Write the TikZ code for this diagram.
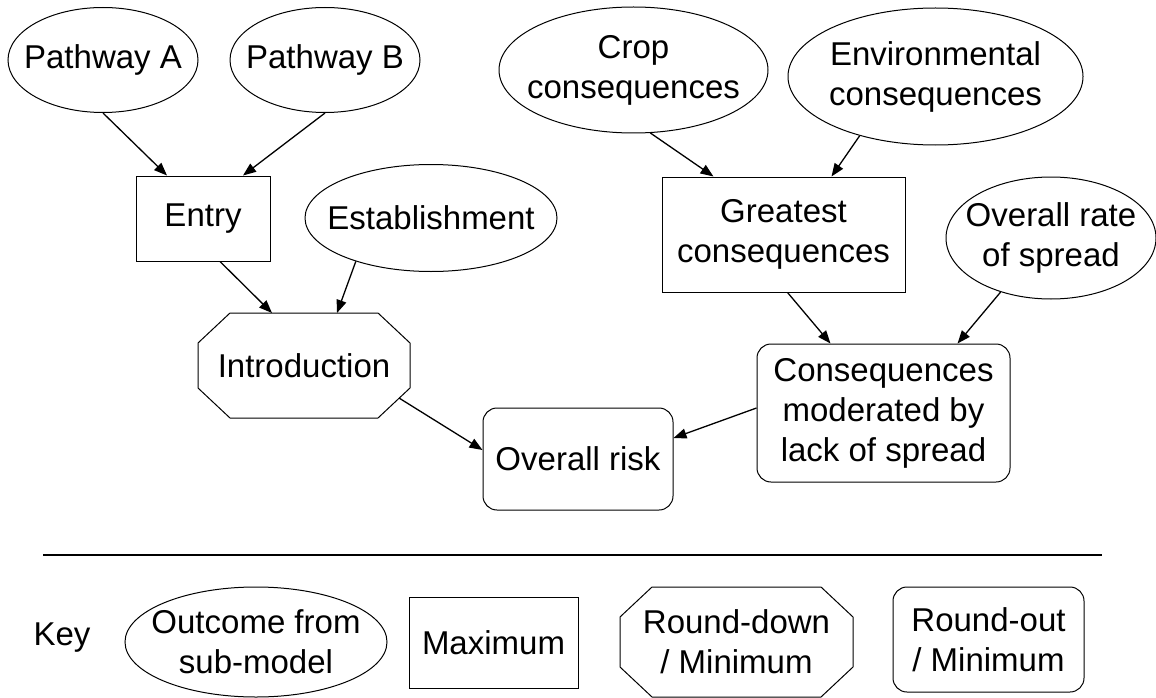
\documentclass[tikz,border=0pt]{standalone}
\usepackage{fontspec}
\setmainfont{Liberation Sans}
\usepackage{tikz}
\usetikzlibrary{shapes.geometric}
\usetikzlibrary{arrows.meta}

\newcommand{\octdraw}[1]{\draw[line width=1pt] ([xshift=32pt]#1.north west) -- ([xshift=-32pt]#1.north east) -- ([yshift=-30pt]#1.north east) -- ([yshift=30pt]#1.south east) -- ([xshift=-32pt]#1.south east) -- ([xshift=32pt]#1.south west) -- ([yshift=30pt]#1.south west) -- ([yshift=-30pt]#1.north west) -- cycle;}

\begin{document}
\begin{tikzpicture}[x=1pt, y=-1pt, font=\fontsize{33}{40}\selectfont,
	outcome/.style={draw, ellipse, line width=1pt, inner sep=-30pt, align=center},
	maxbox/.style={draw, rectangle, line width=1pt, inner sep=4pt, align=center},
	minbox/.style={draw, rectangle, rounded corners=14pt, line width=1pt, inner sep=4pt, align=center},
	downbox/.style={rectangle, inner sep=4pt, outer sep=0pt, align=center},
	arr/.style={-{Triangle[length=13pt,width=10pt]}, line width=1.3pt}]
	\useasboundingbox (0,0) rectangle (1156,698);
	\node[outcome, minimum width=190pt, minimum height=105pt] (pathA) at (103,60) {Pathway A};
	\node[outcome, minimum width=190pt, minimum height=105pt] (pathB) at (325,60) {Pathway B};
	\node[maxbox, minimum width=134pt, minimum height=85pt] (entry) at (203,218.5) {Entry};
	\node[outcome, minimum width=252pt, minimum height=107pt] (est) at (431,218) {Establishment};
	\node[downbox, minimum width=212pt, minimum height=105pt] (intro) at (304,365.5) {Introduction};
	\octdraw{intro}
	\node[minbox, minimum width=190pt, minimum height=102pt] (risk) at (578,459) {Overall risk};
	\node[outcome, minimum width=269pt, minimum height=126pt] (crop) at (633.5,70) {Crop\\consequences};
	\node[outcome, minimum width=295pt, minimum height=137pt] (env) at (935.5,76.5) {Environmental\\consequences};
	\node[maxbox, minimum width=243pt, minimum height=115pt] (great) at (783.5,234.5) {Greatest\\consequences};
	\node[outcome, minimum width=210pt, minimum height=122pt] (rate) at (1051,238) {Overall rate\\of spread};
	\node[minbox, minimum width=253pt, minimum height=138pt] (cons) at (883.5,413) {Consequences\\moderated by\\lack of spread};
	\draw[arr] (pathA.south) -- ([xshift=-36pt]entry.north);
	\draw[arr] (pathB.south) -- ([xshift=40pt]entry.north);
	\draw[arr] ([xshift=17pt]entry.south) -- ([xshift=-32pt]intro.north);
	\draw[arr] (est.210) -- ([xshift=33pt]intro.north);
	\draw[arr] ([xshift=-11pt,yshift=20pt]intro.south east) -- ([yshift=9pt]risk.west);
	\draw[arr] (crop.-75) -- ([xshift=-70pt]great.north);
	\draw[arr] (env.218) -- ([xshift=48pt]great.north);
	\draw[arr] ([xshift=4pt]great.south) -- ([xshift=-53pt]cons.north);
	\draw[arr] (rate.227) -- ([xshift=74pt]cons.north);
	\draw[arr] ([yshift=5pt]cons.west) -- ([yshift=21pt]risk.east);
	\draw[line width=1.3pt] (43,555) -- (1102,555);
	\node (key) at (62,638) {Key};
	\node[outcome, minimum width=262pt, minimum height=110pt] (keyOut) at (256,642) {Outcome from\\sub-model};
	\node[maxbox, minimum width=169pt, minimum height=91pt] (keyMax) at (493.5,642.5) {Maximum};
	\node[downbox, minimum width=233pt, minimum height=110pt] (keyDown) at (736.5,642) {Round-down\\ / Minimum};
	\octdraw{keyDown}
	\node[minbox, minimum width=191pt, minimum height=105pt] (keyMin) at (988.5,639.5) {Round-out\\/ Minimum};
\end{tikzpicture}
\end{document}
